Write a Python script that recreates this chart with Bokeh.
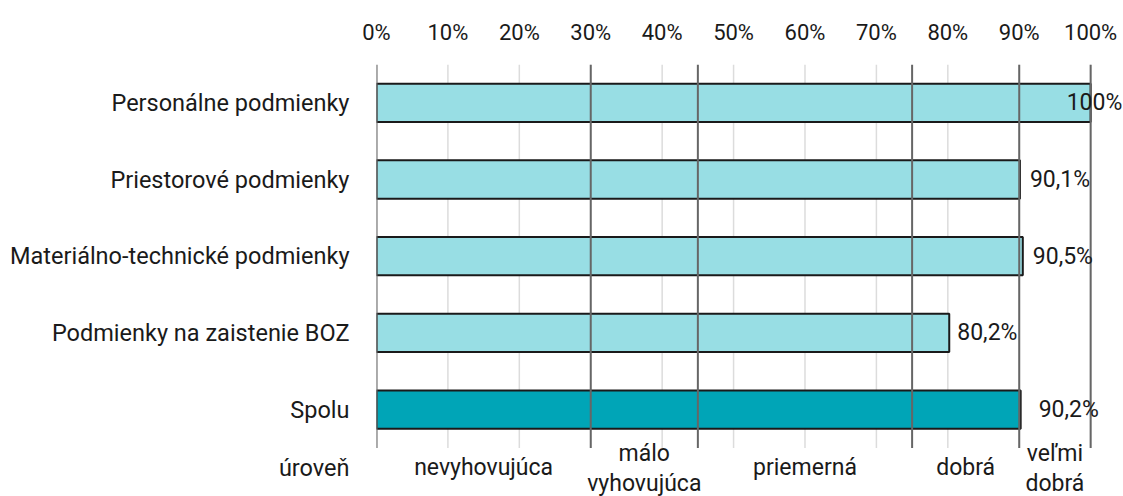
from bokeh.plotting import figure
from bokeh.models import Range1d, FixedTicker, PrintfTickFormatter, ColumnDataSource
from bokeh.core.properties import value
from bokeh.embed import file_html
from bokeh.resources import INLINE

# ---- data ----
categories = ["Personálne podmienky", "Priestorové podmienky",
              "Materiálno-technické podmienky", "Podmienky na zaistenie BOZ", "Spolu"]
values = [100, 90.1, 90.5, 80.2, 90.2]
x_ticks = [0, 10, 20, 30, 40, 50, 60, 70, 80, 90, 100]
level_bounds = [0, 30, 45, 75, 90, 100]
level_names = ["nevyhovujúca", "málo\nvyhovujúca", "priemerná", "dobrá", "veľmi\ndobrá"]
level_title = "úroveň"

# ---- style ----
FONT = "Roboto"
TXT = "#1a1a1a"
light = "#98dee4"
dark = "#00a5b7"
colors = [dark if c == "Spolu" else light for c in categories]
label_offsets = [-24, 10, 10, 8, 18]
LEVEL_Y = -0.756         # row of level names under the bars (in category units)
LEVEL_Y2 = -0.772        # same row, for two-line names


def fmt(v):
    return ("%d%%" % v) if float(v).is_integer() else ("%.1f%%" % v).replace(".", ",")


n = len(categories)
ypos = [n - 1 - i for i in range(n)]   # first category on top

p = figure(width=1123, height=496, output_backend="svg", toolbar_location=None,
           x_axis_location="above",
           x_range=Range1d(0, 104.6), y_range=Range1d(-1.134, n - 0.5),
           min_border_left=376, min_border_right=0, min_border_top=64, min_border_bottom=0)
p.outline_line_color = None
p.background_fill_color = "white"
p.grid.grid_line_color = None

# top axis
ax = p.xaxis[0]
ax.ticker = FixedTicker(ticks=x_ticks)
ax.formatter = PrintfTickFormatter(format="%d%%")
ax.axis_line_color = None
ax.major_tick_line_color = None
ax.minor_tick_line_color = None
ax.major_label_text_font = FONT
ax.major_label_text_font_size = "22px"
ax.major_label_text_color = TXT
ax.major_label_standoff = 14

# left axis: categories + the "úroveň" row title
ay = p.yaxis[0]
ay.ticker = FixedTicker(ticks=ypos + [LEVEL_Y])
overrides = {y: c for y, c in zip(ypos, categories)}
overrides[LEVEL_Y] = level_title
ay.major_label_overrides = overrides
ay.axis_line_color = None
ay.major_tick_line_color = None
ay.minor_tick_line_color = None
ay.major_label_text_font = FONT
ay.major_label_text_font_size = "23.5px"
ay.major_label_text_color = TXT
ay.major_label_standoff = 21

# light grid lines (under bars)
p.segment(x0=x_ticks, x1=x_ticks, y0=-0.5, y1=n - 0.5, line_color="#dcdcdc", line_width=1.5)

src = ColumnDataSource(dict(y=ypos, val=values, col=colors,
                            lab=[fmt(v) for v in values], off=label_offsets))
p.hbar(y="y", right="val", left=0, height=0.5, source=src,
       fill_color="col", line_color=TXT, line_width=2)

# level boundary lines (over bars)
p.segment(x0=level_bounds, x1=level_bounds, y0=-0.5, y1=n - 0.5,
          line_color="#666666", line_width=2)

p.text(x="val", y="y", text="lab", source=src, x_offset="off",
       text_align="left", text_baseline="middle",
       text_font=value(FONT), text_font_size="23px", text_color=TXT)

mids = [(level_bounds[i] + level_bounds[i + 1]) / 2 for i in range(len(level_names))]
level_y = [LEVEL_Y2 if "\n" in s else LEVEL_Y for s in level_names]
p.text(x=mids, y=level_y, text=level_names,
       text_align="center", text_baseline="middle", text_line_height=1.12,
       text_font=value(FONT), text_font_size="23px", text_color=TXT)

open("out.html", "w").write(file_html(p, INLINE))
